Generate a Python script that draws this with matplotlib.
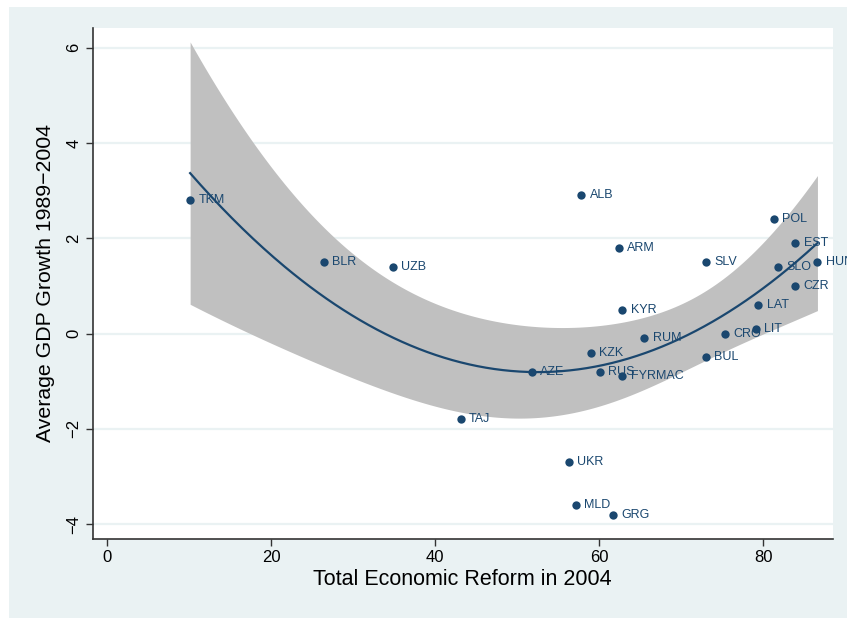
import numpy as np
import matplotlib
matplotlib.use("Agg")
import matplotlib.pyplot as plt
from matplotlib.patches import Rectangle

plt.rcParams['font.family'] = ['Liberation Sans', 'DejaVu Sans']

countries = ["TKM", "BLR", "UZB", "ALB", "ARM", "SLV", "POL", "EST", "HUN", "SLO",
             "CZR", "LAT", "KYR", "RUM", "KZK", "AZE", "RUS", "FYRMAC", "CRO", "LIT",
             "BUL", "TAJ", "UKR", "MLD", "GRG"]
reform = [10.1, 26.4, 34.8, 57.8, 62.4, 73.0, 81.3, 83.9, 86.6, 81.8,
          83.9, 79.4, 62.8, 65.5, 59.0, 51.8, 60.1, 62.8, 75.3, 79.1,
          73.0, 43.1, 56.3, 57.1, 61.7]
growth = [2.8, 1.5, 1.4, 2.9, 1.8, 1.5, 2.4, 1.9, 1.5, 1.4,
          1.0, 0.6, 0.5, -0.1, -0.4, -0.8, -0.8, -0.9, 0.0, 0.1,
          -0.5, -1.8, -2.7, -3.6, -3.8]

x_ticks = [0, 20, 40, 60, 80]
y_ticks = [-4, -2, 0, 2, 4, 6]

NAVY = "#1a476f"
BG = "#eaf2f3"
BAND = "#c0c0c0"

x = np.array(reform)
y = np.array(growth)

# Quadratic fit with 95% confidence interval of the prediction mean
X = np.column_stack([np.ones_like(x), x, x ** 2])
beta, *_ = np.linalg.lstsq(X, y, rcond=None)
resid = y - X @ beta
n, p = X.shape
s2 = resid @ resid / (n - p)
XtX_inv = np.linalg.inv(X.T @ X)
t_crit = 2.0739  # t(0.975, df=22)
xg = np.linspace(x.min(), x.max(), 300)
Xg = np.column_stack([np.ones_like(xg), xg, xg ** 2])
yg = Xg @ beta
se = np.sqrt(np.einsum('ij,jk,ik->i', Xg, XtX_inv, Xg) * s2)
lo, hi = yg - t_crit * se, yg + t_crit * se

fig = plt.figure(figsize=(8.47, 6.18), dpi=100, facecolor="white")
W, H = 847, 618
bg_rect = Rectangle((9 / W, 0), 1 - 9 / W, 1 - 7 / H,
                    transform=fig.transFigure, facecolor=BG,
                    edgecolor="none", zorder=-10)
fig.add_artist(bg_rect)

ax = fig.add_axes([92.7 / W, 1 - 539 / H, (832.7 - 92.7) / W, (539 - 28) / H])
ax.set_zorder(1)
ax.set_facecolor("white")

for yt in y_ticks:
    ax.axhline(yt, color=BG, lw=1.6, zorder=0.5)

ax.fill_between(xg, lo, hi, color=BAND, lw=0, zorder=1)
ax.plot(xg, yg, color=NAVY, lw=1.6, zorder=2)
ax.scatter(x, y, s=36, color=NAVY, zorder=3, linewidths=0)
for name, xi, yi in zip(countries, x, y):
    t = ax.annotate(name, (xi, yi), xytext=(6, 0), textcoords="offset points",
                    va="center", ha="left", fontsize=9, color=NAVY, zorder=4)
    t.set_clip_on(True)

ax.set_xlim(-1.78, 88.46)
ax.set_ylim(-4.31, 6.41)
ax.set_xticks(x_ticks)
ax.set_yticks(y_ticks)
ax.set_yticklabels([str(v).replace("-", "\u2212") for v in y_ticks], rotation=90, va="center")
ax.tick_params(axis="both", labelsize=12, length=5, width=1, color="#333333", pad=3)

for side in ["top", "right"]:
    ax.spines[side].set_visible(False)
for side in ["left", "bottom"]:
    ax.spines[side].set_color("#333333")
    ax.spines[side].set_linewidth(1.2)

ax.set_xlabel("Total Economic Reform in 2004", fontsize=15.5, labelpad=2.5)
ax.set_ylabel("Average GDP Growth 1989\u22122004", fontsize=15.3, labelpad=8)

fig.savefig("out.png", dpi=100, facecolor="white")
